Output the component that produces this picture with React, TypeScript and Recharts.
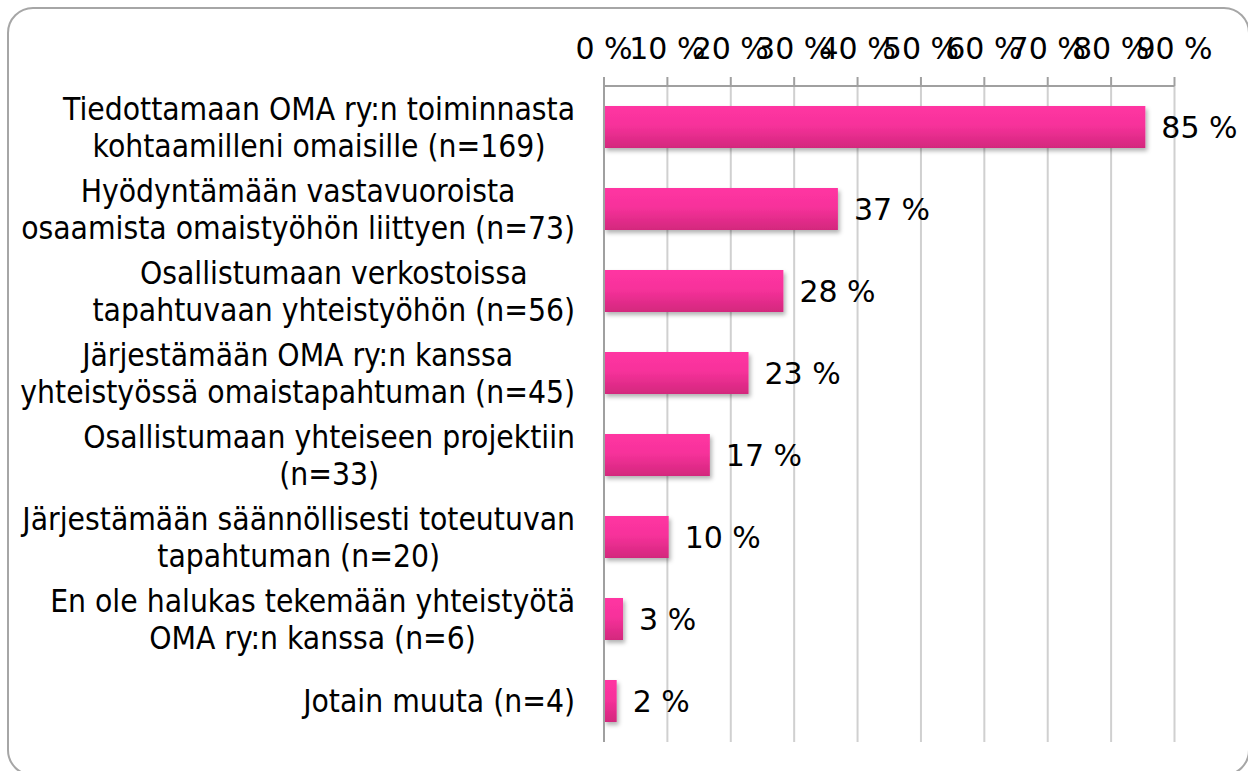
import React from 'react';
import { BarChart, Bar, XAxis, YAxis, CartesianGrid, LabelList } from 'recharts';

// categories, each split into the lines used in the picture
const categories: string[][] = [
  ['Tiedottamaan OMA ry:n toiminnasta', 'kohtaamilleni omaisille (n=169)'],
  ['Hyödyntämään vastavuoroista', 'osaamista omaistyöhön liittyen (n=73)'],
  ['Osallistumaan verkostoissa', 'tapahtuvaan yhteistyöhön (n=56)'],
  ['Järjestämään OMA ry:n kanssa', 'yhteistyössä omaistapahtuman (n=45)'],
  ['Osallistumaan yhteiseen projektiin', '(n=33)'],
  ['Järjestämään säännöllisesti toteutuvan', 'tapahtuman (n=20)'],
  ['En ole halukas tekemään yhteistyötä', 'OMA ry:n kanssa (n=6)'],
  ['Jotain muuta (n=4)'],
];
const values = [85.4, 36.9, 28.3, 22.8, 16.7, 10.2, 3.0, 2.0];
const valueLabels = ['85 %', '37 %', '28 %', '23 %', '17 %', '10 %', '3 %', '2 %'];
const xTicks = [0, 10, 20, 30, 40, 50, 60, 70, 80, 90];

const data = categories.map((lines, i) => ({
  name: lines.join('\n'),
  value: values[i],
  label: valueLabels[i],
}));

const CAT_FONT = "'DejaVu Sans Condensed', 'DejaVu Sans', sans-serif";
const NUM_FONT = "'DejaVu Sans', sans-serif";
const CAT_SIZE = 31.5;
const LINE_H = 37;
const LABEL_RIGHT = 575;

let ctx: CanvasRenderingContext2D | null = null;
const measure = (s: string) => {
  if (!ctx) ctx = document.createElement('canvas').getContext('2d');
  if (!ctx) return s.length * 15;
  ctx.font = `${CAT_SIZE}px 'DejaVu Sans Condensed'`;
  return ctx.measureText(s).width;
};

// multi-line category label, lines centred on each other, block right-aligned
const CategoryTick = (props: any) => {
  const { y, payload } = props;
  const lines = String(payload.value).split('\n');
  const w = Math.max(...lines.map(measure));
  const cx = LABEL_RIGHT - w / 2;
  return (
    <g>
      {lines.map((l, i) => (
        <text
          key={i}
          x={cx}
          y={y + (i - (lines.length - 1) / 2) * LINE_H}
          textAnchor="middle"
          dominantBaseline="central"
          fontFamily={CAT_FONT}
          fontSize={CAT_SIZE}
          fill="#000"
        >
          {l}
        </text>
      ))}
    </g>
  );
};

const GradientBar = (props: any) => {
  const { x, y, width, height } = props;
  return <rect x={x} y={y} width={width} height={height} fill="url(#barGrad)" filter="url(#barShadow)" />;
};

export default function App() {
  return (
    <div style={{ position: 'fixed', left: 0, top: 0, width: 1248, height: 771, overflow: 'hidden', background: '#fff' }}>
      <svg width={0} height={0} style={{ position: 'absolute' }}>
        <defs>
          <linearGradient id="barGrad" x1="0" y1="0" x2="0" y2="1">
            <stop offset="0%" stopColor="#ff36a2" />
            <stop offset="45%" stopColor="#f7319b" />
            <stop offset="100%" stopColor="#d3287d" />
          </linearGradient>
          <filter id="barShadow" x="-20%" y="-30%" width="200%" height="180%">
            <feDropShadow dx="2" dy="3" stdDeviation="2" floodColor="#000" floodOpacity="0.3" />
          </filter>
        </defs>
      </svg>
      <div
        style={{
          position: 'absolute',
          left: 7,
          top: 7,
          width: 1243,
          height: 769,
          border: '2px solid #a6a6a6',
          borderRadius: 26,
          boxSizing: 'border-box',
        }}
      />
      <div style={{ position: 'absolute', left: 0, top: 0 }}>
        <BarChart
          width={1248}
          height={771}
          data={data}
          layout="vertical"
          margin={{ top: 0, right: 73.5, bottom: 29, left: 0 }}
        >
          <CartesianGrid horizontal={false} stroke="#d0d0d0" strokeWidth={2} />
          <XAxis
            type="number"
            orientation="top"
            domain={[0, 90]}
            ticks={xTicks}
            interval={0}
            height={86}
            tickSize={9}
            tickMargin={18}
            tickFormatter={(v: number) => `${v} %`}
            tick={{ fontSize: 30, fill: '#000', fontFamily: NUM_FONT }}
            axisLine={{ stroke: '#a0a0a0', strokeWidth: 2 }}
            tickLine={{ stroke: '#a0a0a0', strokeWidth: 2 }}
          />
          <YAxis
            type="category"
            dataKey="name"
            width={604}
            interval={0}
            tickLine={false}
            axisLine={{ stroke: '#a0a0a0', strokeWidth: 2 }}
            tick={<CategoryTick />}
          />
          <Bar dataKey="value" barSize={42} shape={<GradientBar />} isAnimationActive={false}>
            <LabelList
              dataKey="label"
              position="right"
              offset={16}
              style={{ fontSize: 30, fill: '#000', fontFamily: NUM_FONT }}
            />
          </Bar>
        </BarChart>
      </div>
    </div>
  );
}
